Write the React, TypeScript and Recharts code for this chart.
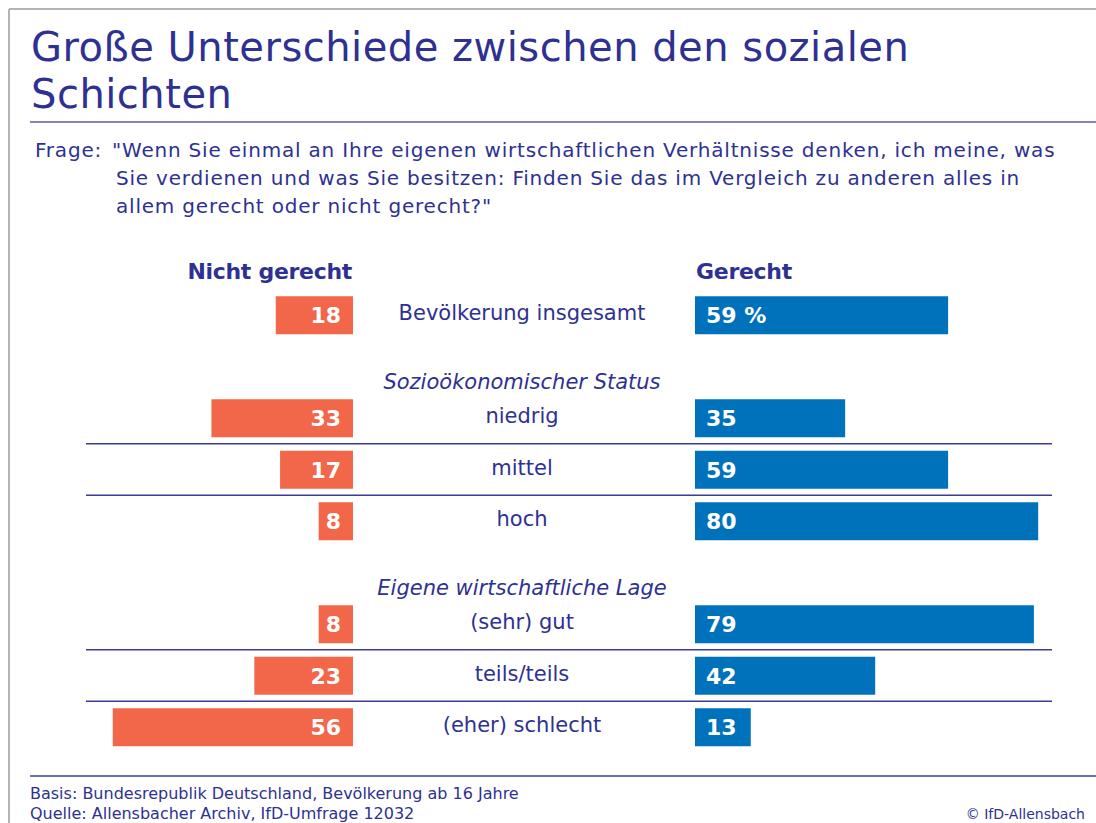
import React from 'react';
import { BarChart, Bar, XAxis, YAxis, LabelList } from 'recharts';

// rows top to bottom, group headers are rows without bars
const ROWS = [
  'Bevölkerung insgesamt',
  'Sozioökonomischer Status',
  'niedrig',
  'mittel',
  'hoch',
  'Eigene wirtschaftliche Lage',
  '(sehr) gut',
  'teils/teils',
  '(eher) schlecht',
];
const NICHT_GERECHT = [18, null, 33, 17, 8, null, 8, 23, 56];
const GERECHT = [59, null, 35, 59, 80, null, 79, 42, 13];
const HEADER_ROWS = ['Sozioökonomischer Status', 'Eigene wirtschaftliche Lage'];
const RULE_ABOVE = ['mittel', 'hoch', 'teils/teils', '(eher) schlecht'];

const TITLE = ['Große Unterschiede zwischen den sozialen', 'Schichten'];
const QUESTION = [
  '"Wenn Sie einmal an Ihre eigenen wirtschaftlichen Verhältnisse denken, ich meine, was',
  'Sie verdienen und was Sie besitzen: Finden Sie das im Vergleich zu anderen alles in',
  'allem gerecht oder nicht gerecht?"',
];
const FOOTER = [
  'Basis: Bundesrepublik Deutschland, Bevölkerung ab 16 Jahre',
  'Quelle: Allensbacher Archiv, IfD-Umfrage 12032',
];

const W = 1096;
const H = 823;
const PLOT_LEFT = 86;
const PLOT_RIGHT = 1052;
const PLOT_TOP = 289.25;
const PLOT_BOTTOM = 752.75;
const LEFT_ZERO = 353;
const RIGHT_ZERO = 695;
const PX_PER_PCT = 4.29;
const LABEL_X = 522;
const BAND = (PLOT_BOTTOM - PLOT_TOP) / ROWS.length;
const AXIS_W = 1;

const NAVY = '#2e3192';
const ORANGE = '#f26649';
const BLUE = '#0072bc';
const FONT = '"DejaVu Sans", sans-serif';

// left axis is reversed so that 0 sits at LEFT_ZERO and bars grow leftwards
const LEFT_DOMAIN = [-(PLOT_RIGHT - LEFT_ZERO) / PX_PER_PCT, (LEFT_ZERO - PLOT_LEFT) / PX_PER_PCT];
const RIGHT_DOMAIN = [-(RIGHT_ZERO - PLOT_LEFT) / PX_PER_PCT, (PLOT_RIGHT - RIGHT_ZERO) / PX_PER_PCT];

const data = ROWS.map((row, i) => ({ row, nicht: NICHT_GERECHT[i], gerecht: GERECHT[i] }));

const boxOf = (props: any) => {
  const vb = props.viewBox && props.viewBox.width != null ? props.viewBox : props;
  const x0 = Math.min(vb.x, vb.x + vb.width);
  const x1 = Math.max(vb.x, vb.x + vb.width);
  return { x0, x1, cy: vb.y + vb.height / 2 };
};

const LeftValue = (props: any) => {
  if (props.value == null) return null;
  const { x1, cy } = boxOf(props);
  return (
    <text x={x1 - 12} y={cy + 8} textAnchor="end" fill="#fff" fontFamily={FONT} fontWeight="bold" fontSize={22}>
      {props.value}
    </text>
  );
};

const RightValue = (props: any) => {
  if (props.value == null) return null;
  const { x0, cy } = boxOf(props);
  const txt = props.index === 0 ? `${props.value} %` : String(props.value);
  return (
    <text x={x0 + 11} y={cy + 8} textAnchor="start" fill="#fff" fontFamily={FONT} fontWeight="bold" fontSize={22}>
      {txt}
    </text>
  );
};

const RowTick = (props: any) => {
  const { y, payload } = props;
  const name = payload.value as string;
  const isHeader = HEADER_ROWS.includes(name);
  return (
    <g>
      {RULE_ABOVE.includes(name) && (
        <line x1={PLOT_LEFT} x2={PLOT_RIGHT} y1={y - BAND / 2} y2={y - BAND / 2} stroke="#3c3c98" strokeWidth={1.5} />
      )}
      <text
        x={LABEL_X}
        y={isHeader ? y + 22 : y + 5}
        textAnchor="middle"
        fill={NAVY}
        fontFamily={FONT}
        fontStyle={isHeader ? 'italic' : 'normal'}
        fontSize={21}
      >
        {name}
      </text>
    </g>
  );
};

export default function App() {
  return (
    <div style={{ position: 'absolute', left: 0, top: 0, width: W, height: H, background: '#fff', overflow: 'hidden' }}>
      <div style={{ position: 'absolute', left: 0, top: 0 }}>
        <BarChart
          width={W}
          height={H}
          data={data}
          layout="vertical"
          margin={{ top: PLOT_TOP, bottom: H - PLOT_BOTTOM, left: PLOT_LEFT - AXIS_W, right: W - PLOT_RIGHT }}
        >
          <XAxis xAxisId="nicht" type="number" domain={LEFT_DOMAIN} reversed allowDataOverflow hide />
          <XAxis xAxisId="gerecht" type="number" domain={RIGHT_DOMAIN} allowDataOverflow hide />
          <YAxis
            dataKey="row"
            type="category"
            width={AXIS_W}
            axisLine={false}
            tickLine={false}
            interval={0}
            tick={<RowTick />}
          />
          <Bar dataKey="nicht" xAxisId="nicht" stackId="row" fill={ORANGE} barSize={38} isAnimationActive={false}>
            <LabelList dataKey="nicht" content={(p: any) => <LeftValue {...p} />} />
          </Bar>
          <Bar dataKey="gerecht" xAxisId="gerecht" stackId="row" fill={BLUE} barSize={38} isAnimationActive={false}>
            <LabelList dataKey="gerecht" content={(p: any) => <RightValue {...p} />} />
          </Bar>
        </BarChart>
      </div>
      <svg width={W} height={H} style={{ position: 'absolute', left: 0, top: 0, pointerEvents: 'none' }}>
        <line x1={9} x2={W} y1={9} y2={9} stroke="#b4b4b4" strokeWidth={2} />
        <line x1={9} x2={9} y1={9} y2={H} stroke="#b4b4b4" strokeWidth={2} />
        <g fontFamily={FONT} fill={NAVY}>
          <text x={31} y={61} fontSize={40} letterSpacing={0.5}>{TITLE[0]}</text>
          <text x={31} y={108} fontSize={40} letterSpacing={0.5}>{TITLE[1]}</text>
          <line x1={30} x2={W} y1={122} y2={122} stroke="#5b5bb3" strokeWidth={1.5} />
          <text x={35} y={157} fontSize={20} letterSpacing={0.8}>Frage:</text>
          <text x={112} y={157} fontSize={20} letterSpacing={0.8}>{QUESTION[0]}</text>
          <text x={116} y={185} fontSize={20} letterSpacing={0.8}>{QUESTION[1]}</text>
          <text x={116} y={213} fontSize={20} letterSpacing={0.8}>{QUESTION[2]}</text>
          <text x={352} y={279} fontSize={22} fontWeight="bold" letterSpacing={-0.3} textAnchor="end">Nicht gerecht</text>
          <text x={696} y={279} fontSize={22} fontWeight="bold" letterSpacing={-0.3}>Gerecht</text>
          <line x1={30} x2={W} y1={776} y2={776} stroke="#3c3c98" strokeWidth={1.5} />
          <text x={30} y={799} fontSize={16}>{FOOTER[0]}</text>
          <text x={30} y={819} fontSize={16}>{FOOTER[1]}</text>
          <text x={1085} y={819} fontSize={14} textAnchor="end">© IfD-Allensbach</text>
        </g>
      </svg>
    </div>
  );
}
